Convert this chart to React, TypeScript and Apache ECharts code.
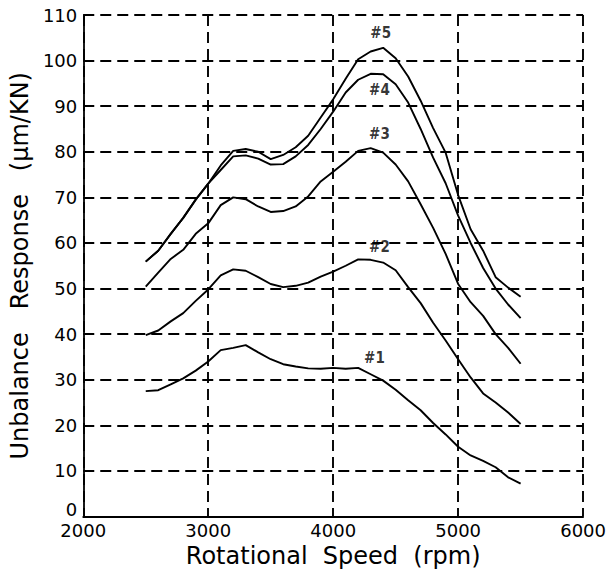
import React, { useEffect, useRef } from "react";
import * as echarts from "echarts";

const rpm = [2500, 2600, 2700, 2800, 2900, 3000, 3100, 3200, 3300, 3400, 3500, 3600, 3700, 3800, 3900, 4000, 4100, 4200, 4300, 4400, 4500, 4600, 4700, 4800, 4900, 5000, 5100, 5200, 5300, 5400, 5500];

const run1 = [27.5, 27.7, 29.0, 30.3, 32.0, 34.0, 36.5, 37.0, 37.6, 36.0, 34.5, 33.4, 32.9, 32.5, 32.4, 32.6, 32.4, 32.6, 31.2, 29.8, 27.8, 25.5, 23.3, 20.5, 18.0, 15.3, 13.4, 12.2, 10.8, 8.6, 7.2];
const run2 = [39.8, 40.8, 42.8, 44.6, 47.3, 49.8, 52.9, 54.2, 53.9, 52.5, 51.0, 50.3, 50.6, 51.3, 52.6, 53.7, 55.0, 56.4, 56.3, 55.7, 54.0, 50.3, 46.8, 42.5, 38.6, 34.5, 30.5, 27.0, 25.0, 22.8, 20.3];
const run3 = [50.4, 53.5, 56.5, 58.5, 62.0, 64.3, 68.3, 70.0, 69.6, 68.0, 66.8, 67.0, 68.0, 70.2, 73.5, 75.6, 77.8, 80.2, 80.8, 79.8, 77.2, 73.5, 68.5, 63.3, 57.6, 51.0, 47.0, 44.0, 40.0, 37.0, 33.5];
const run4 = [55.9, 58.3, 62.0, 65.5, 69.5, 73.0, 76.0, 79.0, 79.2, 78.5, 77.2, 77.3, 79.0, 81.5, 85.0, 88.8, 93.0, 95.8, 97.1, 97.0, 94.8, 90.8, 85.0, 78.7, 73.1, 66.0, 60.0, 54.5, 50.0, 46.5, 43.5];
const run5 = [55.9, 58.3, 62.0, 65.5, 69.5, 73.0, 77.0, 80.2, 80.6, 80.0, 78.4, 79.3, 81.0, 83.5, 87.5, 91.5, 96.0, 100.3, 102.0, 102.8, 100.5, 96.5, 91.2, 85.2, 79.8, 70.5, 63.0, 58.3, 52.5, 50.2, 48.2];

const curveNames = ["#1", "#2", "#3", "#4", "#5"];
const labelRpm = [4330, 4370, 4370, 4370, 4380];
const labelValue = [34.7, 59.2, 84.0, 93.5, 106.0];

const xTicks = { min: 2000, max: 6000, interval: 1000 };
const yTicks = { min: 0, max: 110, interval: 10 };

export default function App() {
  const ref = useRef<HTMLDivElement>(null);
  useEffect(() => {
    if (!ref.current) return;
    const chart = echarts.init(ref.current, null, { renderer: "svg" });
    const runs = [run1, run2, run3, run4, run5];
    const font = "DejaVu Sans";
    const dash = { type: [11, 6] as any, color: "#000", width: 1.9 };
    chart.setOption({
      animation: false,
      backgroundColor: "#fff",
      grid: { left: 76, right: 24, top: 15, bottom: 58.5 },
      xAxis: {
        type: "value",
        ...xTicks,
        axisLine: { show: true, lineStyle: { color: "#000", width: 1.8 } },
        axisTick: { show: false },
        axisLabel: {
          color: "#000",
          fontSize: 18,
          fontFamily: font,
          margin: 5,
          formatter: (v: number) => String(v),
        },
        splitLine: { show: true, lineStyle: dash },
        name: "Rotational  Speed  (rpm)",
        nameLocation: "middle",
        nameGap: 25,
        nameTextStyle: { color: "#000", fontSize: 24, fontFamily: font, verticalAlign: "top" },
      },
      yAxis: {
        type: "value",
        ...yTicks,
        axisLine: { show: true, lineStyle: { color: "#000", width: 1.8 } },
        axisTick: { show: false },
        axisLabel: {
          color: "#000",
          fontSize: 18,
          fontFamily: font,
          margin: 6,
          formatter: (v: number) => (v === 0 ? "{z|0}" : String(v)),
          rich: { z: { color: "#000", fontSize: 18, fontFamily: font, padding: [0, 0, 14, 0] } },
        },
        splitLine: { show: true, lineStyle: dash },
        name: "Unbalance   Response   (μm/KN)",
        nameLocation: "middle",
        nameGap: 50,
        nameTextStyle: { color: "#000", fontSize: 24, fontFamily: font },
      },
      series: [
        ...runs.map((r, i) => ({
          type: "line",
          name: curveNames[i],
          data: rpm.map((x, j) => [x, r[j]]),
          showSymbol: false,
          symbol: "none",
          lineStyle: { color: "#000", width: 1.9 },
          z: 5,
        })),
        {
          type: "scatter",
          symbolSize: 0,
          data: curveNames.map((n, i) => ({ name: n, value: [labelRpm[i], labelValue[i]] })),
          label: {
            show: true,
            formatter: (p: any) => p.name,
            position: "inside",
            color: "#000",
            fontSize: 15,
            fontWeight: "bold",
            fontFamily: "DejaVu Sans Condensed",
          },
          z: 6,
        },
      ],
    });
    return () => chart.dispose();
  }, []);
  return <div ref={ref} style={{ width: 609, height: 575, position: "absolute", left: 0, top: 0 }} />;
}
